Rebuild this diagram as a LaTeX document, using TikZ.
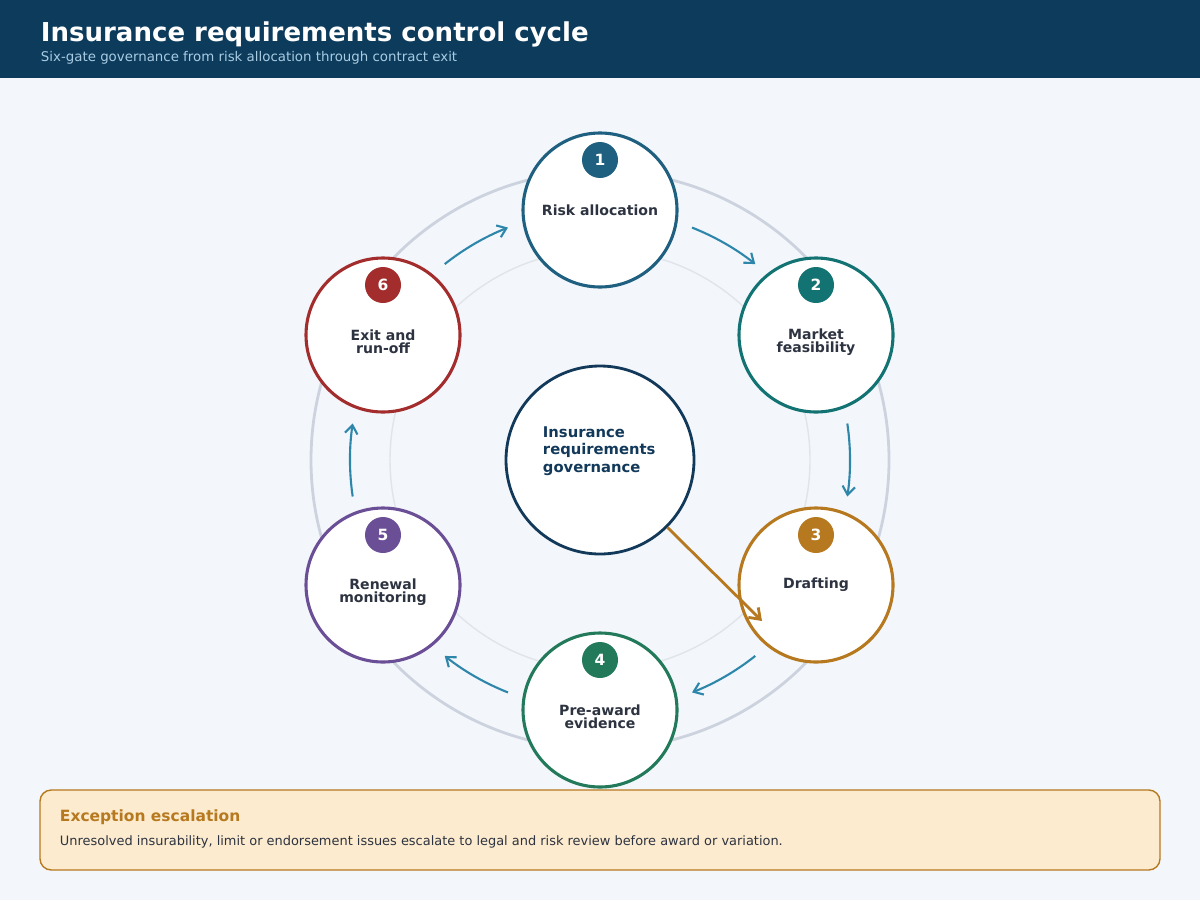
\documentclass[tikz,border=0pt]{standalone}
\usepackage{fontspec}
\setmainfont{DejaVu Sans}
\usetikzlibrary{arrows.meta}
\definecolor{hdr}{HTML}{0D3B5C}
\definecolor{bg}{HTML}{F3F7FB}
\definecolor{cA}{HTML}{1F5F7F}
\definecolor{cB}{HTML}{137373}
\definecolor{cC}{HTML}{B7791F}
\definecolor{cD}{HTML}{237A5A}
\definecolor{cE}{HTML}{6B4F96}
\definecolor{cF}{HTML}{A32D2D}
\definecolor{arr}{HTML}{2E86AB}
\definecolor{txt}{HTML}{2D3340}
\definecolor{ctr}{HTML}{12395A}
\definecolor{subc}{HTML}{A9CCE3}
\definecolor{boxf}{HTML}{FCEBCE}
\definecolor{ring}{HTML}{CDD3DE}
\begin{document}
\begin{tikzpicture}[x=0.025cm,y=-0.025cm,
  gate/.style={circle,draw=#1,line width=2.2pt,fill=white,minimum size=154*0.025cm,inner sep=0pt},
  badge/.style={circle,fill=#1,minimum size=36*0.025cm,inner sep=0pt,text=white,font=\fontsize{11}{12}\selectfont\bfseries},
  lab/.style={text=txt,font=\fontsize{10}{9.5}\selectfont\bfseries,align=center},
  flow/.style={draw=arr,line width=1.5pt,-{Straight Barb[length=6pt,width=9pt]}}]
\useasboundingbox (0,0) rectangle (1200,900);
\fill[bg] (0,0) rectangle (1200,900);
\fill[hdr] (0,0) rectangle (1200,78);
\node[anchor=west,text=white,font=\fontsize{18.5}{20}\selectfont\bfseries] (title) at (36,34) {Insurance requirements control cycle};
\node[anchor=west,text=subc,font=\fontsize{9.5}{11}\selectfont] (sub) at (36,58) {Six-gate governance from risk allocation through contract exit};
\draw[ring,line width=2pt] (600,460) circle (289);
\draw[ring!60,line width=1pt] (600,460) circle (210);
% arrows
\foreach \t in {90,30,-30,-90,-150,150}{
  \draw[flow] ([shift={(-\t+21.6:250)}]600,460) arc[start angle=-\t+21.6,end angle=-\t+38.4,radius=250];
}
\node[gate=cA] (g1) at (600,210) {};
\node[gate=cB] (g2) at (816,335) {};
\node[gate=cC] (g3) at (816,585) {};
\node[gate=cD] (g4) at (600,710) {};
\node[gate=cE] (g5) at (383,585) {};
\node[gate=cF] (g6) at (383,335) {};
\foreach \n/\c in {1/cA,2/cB,3/cC,4/cD,5/cE,6/cF}{
  \node[badge=\c] (b\n) at ([yshift=50*0.025cm]g\n.center) {\n};
}
\node[lab] (l1) at (600,210) {Risk allocation};
\node[lab] (l2) at (816,342) {Market\\feasibility};
\node[lab] (l3) at (816,585) {Drafting};
\node[lab] (l4) at (600,717) {Pre-award\\evidence};
\node[lab] (l5) at (383,592) {Renewal\\monitoring};
\node[lab] (l6) at (383,342) {Exit and\\run-off};
\node[circle,draw=ctr,line width=2pt,fill=white,minimum size=188*0.025cm] (c) at (600,460) {};
\node[anchor=west,text=ctr,font=\fontsize{10.5}{12.5}\selectfont\bfseries,align=left] (ct) at (538,451) {Insurance\\requirements\\governance};
\coordinate (e) at (762,621);
\draw[cC,line width=2pt,-{Straight Barb[length=7pt,width=10pt]}] (c.-45) -- (e);
\draw[cC,fill=boxf,line width=1pt,rounded corners=8pt] (40,790) rectangle (1160,870);
\node[anchor=west,text=cC,font=\fontsize{11}{12}\selectfont\bfseries] (et) at (55,817) {Exception escalation};
\node[anchor=west,text=txt,font=\fontsize{9.2}{11}\selectfont] (eb) at (55,842) {Unresolved insurability, limit or endorsement issues escalate to legal and risk review before award or variation.};
\end{tikzpicture}
\end{document}
